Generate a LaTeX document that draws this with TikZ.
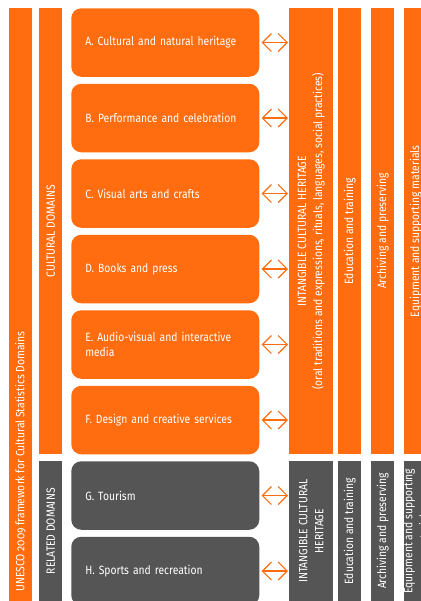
\documentclass[tikz,border=0pt]{standalone}
\usepackage{fontspec}
\setmainfont[FakeStretch=0.86,Numbers=OldStyle]{Fira Sans}
\usetikzlibrary{arrows.meta}

\definecolor{domorange}{HTML}{FF6D10}
\definecolor{domgray}{HTML}{555555}

\tikzset{
  bar/.style={fill=#1, draw=none, inner sep=0pt, anchor=north west},
  domain/.style={fill=#1, rounded corners=7.5pt, inner xsep=10.5pt, inner ysep=0pt,
    text width=120pt, minimum height=51.375pt, align=left, anchor=north west,
    text=white, font=\fontsize{9}{11.25}\selectfont},
  vlabel/.style={rotate=90, text=white, align=center, inner sep=0pt,
    font=\fontsize{9}{12}\selectfont},
  link/.style={{Straight Barb[length=6.75pt,width=13.5pt]}-{Straight Barb[length=6.75pt,width=13.5pt]},
    domorange, line width=0.9pt, shorten <=1.5pt, shorten >=0.75pt}
}

\begin{document}
\begin{tikzpicture}[x=0.75pt,y=0.75pt,yscale=-1,xscale=1]
    \useasboundingbox (0,0) rectangle (421,601);
    \clip (0,0) rectangle (421,601);

    % left bars
    \node [bar=domorange, minimum width=17.25pt, minimum height=444.75pt] (unesco) at (9,8) {};
    \node [bar=domorange, minimum width=17.25pt, minimum height=334.5pt] (cultural) at (39,8) {};
    \node [bar=domgray, minimum width=17.25pt, minimum height=105pt] (related) at (39,461) {};

    \node [vlabel, anchor=west] (unescotext) at (20.5,592) {UNESCO 2009 framework for Cultural Statistics Domains};
    \node [vlabel] (culturaltext) at (cultural.center) {CULTURAL DOMAINS};
    \node [vlabel] (relatedtext) at (related.center) {RELATED DOMAINS};

    % domain boxes
    \node [domain=domorange] (boxA) at (71,8) {A. Cultural and natural heritage};
    \node [domain=domorange] (boxB) at (71,83.5) {B. Performance and celebration};
    \node [domain=domorange] (boxC) at (71,159) {C. Visual arts and crafts};
    \node [domain=domorange] (boxD) at (71,234.5) {D. Books and press};
    \node [domain=domorange] (boxE) at (71,310) {E. Audio-visual and interactive\\media};
    \node [domain=domorange] (boxF) at (71,385.5) {F. Design and creative services};
    \node [domain=domgray] (boxG) at (71,461) {G. Tourism};
    \node [domain=domgray] (boxH) at (71,536.5) {H. Sports and recreation};

    % right columns
    \node [bar=domorange, minimum width=33pt, minimum height=334.5pt] (ich) at (289,8) {};
    \node [bar=domorange, minimum width=17.25pt, minimum height=334.5pt] (edu) at (338,8) {};
    \node [bar=domorange, minimum width=17.25pt, minimum height=334.5pt] (arch) at (371,8) {};
    \node [bar=domorange, minimum width=17.25pt, minimum height=334.5pt] (equip) at (404,8) {};
    \node [bar=domgray, minimum width=33pt, minimum height=105pt] (ichg) at (289,461) {};
    \node [bar=domgray, minimum width=17.25pt, minimum height=105pt] (edug) at (338,461) {};
    \node [bar=domgray, minimum width=17.25pt, minimum height=105pt] (archg) at (371,461) {};
    \node [bar=domgray, minimum width=17.25pt, minimum height=105pt] (equipg) at (404,461) {};

    \node [vlabel] (ichtext) at (ich.center) {INTANGIBLE CULTURAL HERITAGE\\(oral traditions and expressions, rituals, languages, social practices)};
    \node [vlabel] (edutext) at (edu.center) {Education and training};
    \node [vlabel] (archtext) at (arch.center) {Archiving and preserving};
    \node [vlabel] (equiptext) at (equip.center) {Equipment and supporting materials};
    \node [vlabel] (ichgtext) at (ichg.center) {INTANGIBLE CULTURAL\\HERITAGE};
    \node [vlabel] (edugtext) at (edug.center) {Education and training};
    \node [vlabel] (archgtext) at (archg.center) {Archiving and preserving};
    \node [vlabel] (equipgtext) at (equipg.center) {Equipment and supporting\\materials};

    % links
    \draw [link] (boxA.east) -- (ich.west |- boxA.east);
    \draw [link] (boxB.east) -- (ich.west |- boxB.east);
    \draw [link] (boxC.east) -- (ich.west |- boxC.east);
    \draw [link] (boxD.east) -- (ich.west |- boxD.east);
    \draw [link] (boxE.east) -- (ich.west |- boxE.east);
    \draw [link] (boxF.east) -- (ich.west |- boxF.east);
    \draw [link] (boxG.east) -- (ichg.west |- boxG.east);
    \draw [link] (boxH.east) -- (ichg.west |- boxH.east);
\end{tikzpicture}
\end{document}
